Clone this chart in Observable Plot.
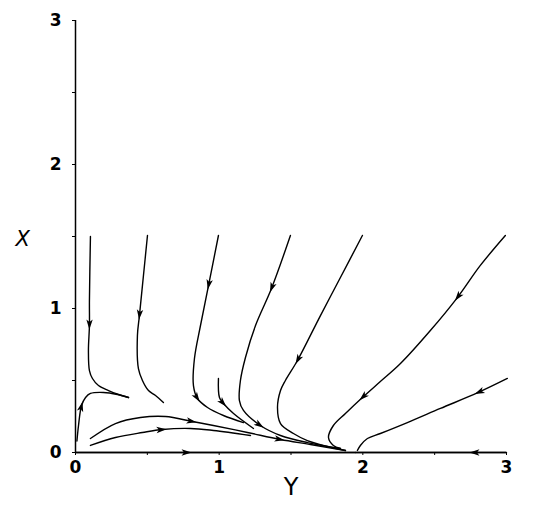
<!DOCTYPE html>
<html><head><meta charset="utf-8">
<script src="https://cdn.jsdelivr.net/npm/d3@7"></script>
<script src="https://cdn.jsdelivr.net/npm/@observablehq/plot@0.6"></script>
<style>body{margin:0;background:#fff;font-family:"DejaVu Sans",sans-serif}</style>
</head><body><div id="chart"></div>
<script>
// Trajectories in (Y, X) coordinates
const curve1 = [[0.104,1.5],[0.097,1.056],[0.097,0.882],[0.09,0.708],[0.097,0.569],[0.118,0.514],[0.16,0.465],[0.23,0.43],[0.3,0.403],[0.369,0.382]];
const curve2 = [[0.501,1.507],[0.473,1.229],[0.445,0.951],[0.431,0.8125],[0.438,0.583],[0.466,0.5],[0.508,0.43],[0.557,0.396],[0.612,0.347]];
const curve3 = [[0.995,1.507],[0.926,1.16],[0.87,0.882],[0.828,0.653],[0.821,0.465],[0.849,0.375],[0.919,0.3125],[1.03,0.257],[1.169,0.208]];
const curve4 = [[0.995,0.514],[1.002,0.382],[1.03,0.34],[1.1,0.271],[1.239,0.167]];
const curve5 = [[1.496,1.507],[1.364,1.139],[1.253,0.882],[1.183,0.66],[1.148,0.5],[1.141,0.361],[1.169,0.292],[1.287,0.1875],[1.427,0.118],[1.614,0.069],[1.844,0.028]];
const curve6 = [[1.997,1.507],[1.844,1.215],[1.705,0.951],[1.545,0.639],[1.461,0.5],[1.427,0.43],[1.406,0.3125],[1.427,0.201],[1.517,0.132],[1.614,0.083],[1.754,0.042],[1.879,0.014]];
const curve7 = [[2.992,1.507],[2.818,1.299],[2.658,1.076],[2.47,0.847],[2.262,0.618],[2.122,0.493],[1.997,0.382],[1.879,0.271],[1.795,0.1875],[1.761,0.104],[1.795,0.049],[1.844,0.028]];
const curve8 = [[3.006,0.514],[2.804,0.417],[2.54,0.306],[2.31,0.208],[2.122,0.132],[2.032,0.097],[1.983,0.049],[1.962,0.014]];
const curve9 = [[0.104,0.097],[0.278,0.201],[0.452,0.243],[0.626,0.25],[0.814,0.215],[0.96,0.1875],[1.197,0.139],[1.427,0.09],[1.635,0.056],[1.879,0.014]];
const curve10 = [[0.104,0.049],[0.278,0.104],[0.466,0.139],[0.605,0.16],[0.8,0.167],[0.96,0.153],[1.218,0.118]];
const curve11 = [[0.01,0.08],[0.021,0.1875],[0.042,0.326],[0.07,0.382],[0.104,0.41],[0.195,0.417],[0.292,0.403],[0.369,0.382]];
const axisFromLeft = [[0,0],[0.78,0],[1.95,0]];
const axisFromRight = [[3,0],[2.77,0],[1.95,0]];

const trajectories = {curve1, curve2, curve3, curve4, curve5, curve6, curve7, curve8, curve9, curve10, curve11, axisFromLeft, axisFromRight};
// arrowheads: [trajectory, index of point where the arrow sits]
const arrowAt = [["curve1",2],["curve2",2],["curve3",1],["curve3",5],["curve4",2],["curve5",1],["curve5",7],["curve6",3],["curve7",2],["curve7",6],["curve8",1],["curve9",4],["curve9",7],["curve10",3],["curve11",2],["axisFromLeft",1],["axisFromRight",1]];

const xTicks = [0,0.5,1,1.5,2,2.5,3];
const yTicks = [0,0.5,1,1.5,2,2.5,3];
const tickLabel = d => Number.isInteger(d) ? String(d) : "";

const rows = Object.entries(trajectories).flatMap(([id, pts]) => pts.map(([u, v]) => ({id, u, v})));
const arrows = arrowAt.map(([id, i]) => {
  const p = trajectories[id];
  const a = p[Math.max(0, i - 1)], b = p[Math.min(p.length - 1, i + 1)];
  return {u: p[i][0], v: p[i][1], rotate: Math.atan2(-(b[1] - a[1]), b[0] - a[0]) * 180 / Math.PI};
});

const arrowHead = {draw(ctx) {
  ctx.moveTo(4, 0); ctx.lineTo(-6, -3.2); ctx.lineTo(-3.5, 0); ctx.lineTo(-6, 3.2); ctx.closePath();
}};

const chart = Plot.plot({
  width: 533, height: 510,
  marginLeft: 75, marginRight: 27, marginTop: 20, marginBottom: 58,
  x: {domain: [0, 3]}, y: {domain: [0, 3]},
  style: {fontFamily: "DejaVu Sans, sans-serif", background: "white"},
  marks: [
    Plot.ruleX([0], {y1: 0, y2: 3, stroke: "black", strokeWidth: 1.5}),
    Plot.ruleY([0], {x1: 0, x2: 3, stroke: "black", strokeWidth: 1.5}),
    Plot.axisX({ticks: xTicks, tickSize: 3, tickPadding: 5, tickFormat: tickLabel, fontSize: 17, fontWeight: 600, label: null}),
    Plot.axisY({ticks: yTicks, tickSize: 3, tickPadding: 11, tickFormat: tickLabel, fontSize: 17, fontWeight: 600, label: null}),
    Plot.text(["Y"], {frameAnchor: "bottom", dy: 42, fontSize: 24, fill: "black"}),
    Plot.text(["X"], {frameAnchor: "left", dx: -60, fontSize: 21, fontStyle: "italic", fill: "black", dy: 3}),
    Plot.line(rows, {x: "u", y: "v", z: "id", curve: "catmull-rom", stroke: "black", strokeWidth: 1.4}),
    Plot.dot(arrows, {x: "u", y: "v", rotate: "rotate", symbol: arrowHead, fill: "black", stroke: "none", r: 4})
  ]
});
document.getElementById("chart").appendChild(chart);
</script>
</body></html>
